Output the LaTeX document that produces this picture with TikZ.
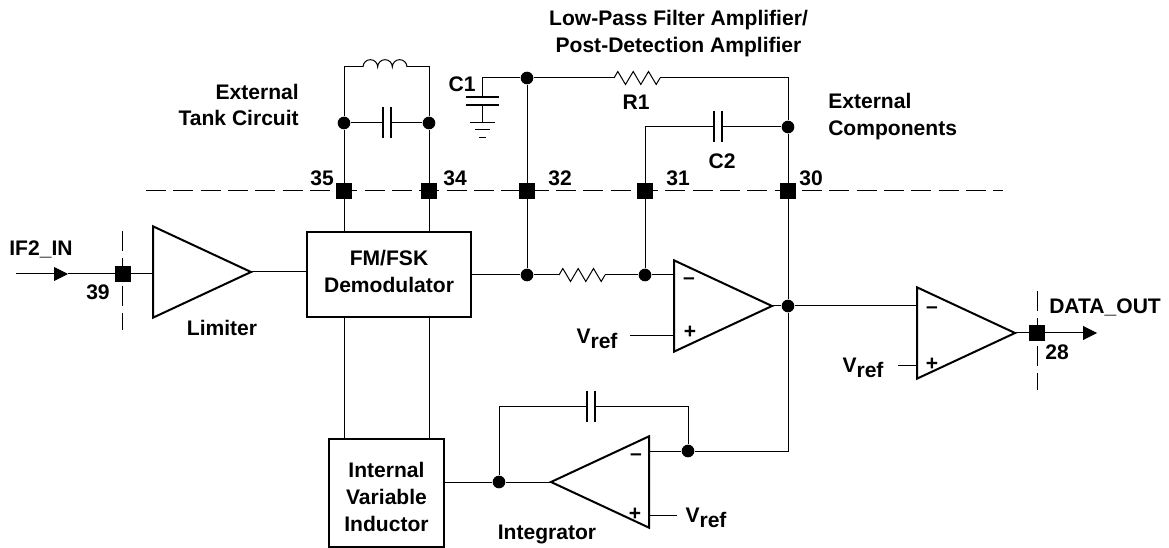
\documentclass[tikz,border=0pt]{standalone}
\usepackage{fontspec}
\usepackage{tikz}
\usetikzlibrary{arrows.meta,shapes.geometric}
\setmainfont{Liberation Sans}

\tikzset{
    pin/.style={rectangle, fill=black, inner sep=0pt, minimum size=12pt},
    dot/.style={circle, fill=black, inner sep=0pt, minimum size=9.5pt},
    block/.style={rectangle, draw, line width=1.5pt, align=center, inner sep=0pt, font=\bfseries\fontsize{15.8}{20}\selectfont},
    amp/.style={isosceles triangle, isosceles triangle stretches, draw, line width=1.5pt, inner sep=0pt, outer sep=0pt, minimum width=68.5pt, minimum height=73.5pt, anchor=lower side},
    lbl/.style={inner sep=0pt, align=center, font=\bfseries\fontsize{15.8}{20}\selectfont},
    wire/.style={line width=0.75pt},
    cut/.style={line width=0.75pt, dash pattern=on 15pt off 5.5pt},
    tip/.style={-{Triangle[length=10.5pt,width=10.5pt]}},
    hcap/.pic={\draw[line width=1.5pt] (-4,-15.5) -- (-4,15.5) (4,-15.5) -- (4,15.5);},
    res/.pic={\draw[wire] (0,0) -- (3.8,-6.5) -- (11.5,6.5) -- (19.2,-6.5) -- (26.8,6.5) -- (34.5,-6.5) -- (42.2,6.5) -- (46,0);},
    ind/.pic={\draw[wire] (0,0) arc[start angle=180, end angle=0, radius=5.5pt] arc[start angle=180, end angle=0, radius=5.5pt] arc[start angle=180, end angle=0, radius=5.5pt];}
}
\newcommand{\vref}{V\raisebox{-4pt}{ref}}

\begin{document}
\begin{tikzpicture}[x=0.75pt, y=-0.75pt]
    \useasboundingbox (0,0) rectangle (1169,548);

    % Pins on the dashed boundary
    \node[pin] (pin39) at (123,274) {};
    \node[pin] (pin35) at (344,191) {};
    \node[pin] (pin34) at (429,191) {};
    \node[pin] (pin32) at (527,191) {};
    \node[pin] (pin31) at (645,191) {};
    \node[pin] (pin30) at (788,191) {};
    \node[pin] (pin28) at (1037,333) {};

    % Dashed boundary
    \coordinate (cutL) at (146,191);
    \coordinate (cutR) at (1003,191);
    \coordinate (cut39a) at (122,231);
    \coordinate (cut39b) at (122,330);
    \coordinate (cut28a) at (1037,291);
    \coordinate (cut28b) at (1037,390);
    \draw[cut] (cutL) -- (cutR);
    \draw[cut] (cut39a) -- (cut39b);
    \draw[cut] (cut28a) -- (cut28b);

    % Blocks and amplifiers
    \node[block, minimum width=123pt, minimum height=64pt] (demod) at (389,274.5) {FM/FSK\\Demodulator\rule[-4.7pt]{0pt}{0pt}};
    \node[block, minimum width=86pt, minimum height=81pt] (vind) at (386.5,493) {\rule{0pt}{17.3pt}Internal\\Variable\\Inductor};
    \node[amp] (limiter) at (153,272) {};
    \node[amp] (amp1) at (674,306) {};
    \node[amp] (amp2) at (917,333) {};
    \node[amp, shape border rotate=180] (amp3) at (649,482) {};

    % Junction dots
    \node[dot] (dotTL) at (344,123) {};
    \node[dot] (dotTR) at (429,123) {};
    \node[dot] (dotC1) at (527,78) {};
    \node[dot] (dotIn) at (527,275) {};
    \node[dot] (dotNeg) at (645,275) {};
    \node[dot] (dotC2) at (788,127) {};
    \node[dot] (dotOut) at (788,306) {};
    \node[dot] (dotFb) at (688,451) {};
    \node[dot] (dotInt) at (499,482) {};

    % Free ends of parts
    \coordinate (inL) at (363,67);
    \coordinate (inE) at (407,67);
    \coordinate (capTL) at (383,123);
    \coordinate (capTR) at (390,123);
    \coordinate (r1L) at (614,78);
    \coordinate (r1R) at (660,78);
    \coordinate (r2L) at (559,275);
    \coordinate (r2R) at (605,275);
    \coordinate (c2L) at (714,127);
    \coordinate (c2R) at (721,127);
    \coordinate (c3L) at (587,406);
    \coordinate (c3R) at (595,406);
    \coordinate (top30) at (788,78);
    \coordinate (c1top) at (482,78);
    \coordinate (c1a) at (482,97);
    \coordinate (c1b) at (482,105);
    \coordinate (gnd) at (482,123);
    \coordinate (ifin) at (16,274);
    \coordinate (ifmid) at (68,274);
    \coordinate (dataend) at (1097,333);
    \coordinate (vr1) at (630,336);
    \coordinate (vr2) at (898,366);
    \coordinate (vr3) at (677,515);

    % Tank circuit
    \draw[wire] (demod.north -| pin35) -- (pin35) -- (dotTL) |- (inL);
    \draw[wire] (demod.north -| pin34) -- (pin34) -- (dotTR) |- (inE);
    \pic at (inL) {ind};
    \draw[wire] (dotTL) -- (capTL);
    \draw[wire] (capTR) -- (dotTR);
    \pic at (386.5,123) {hcap};

    % C1 and ground
    \draw[wire] (dotIn) -- (pin32) -- (dotC1);
    \draw[wire] (dotC1) -- (c1top) -- (c1a);
    \draw[wire] (c1b) -- (gnd);
    \draw[line width=1.5pt] (466,97) -- (499,97) (466,105) -- (499,105);
    \draw[wire] (470,123) -- (495,123) (475,130) -- (490,130) (479,138) -- (486,138);

    % R1 and C2 feedback
    \draw[wire] (dotC1) -- (r1L);
    \pic at (r1L) {res};
    \draw[wire] (r1R) -| (top30) -- (dotC2) -- (pin30) -- (dotOut);
    \draw[wire] (dotNeg) -- (pin31) |- (c2L);
    \draw[wire] (c2R) -- (dotC2);
    \pic at (717.5,127) {hcap};

    % Signal path
    \draw[wire, tip] (ifin) -- (ifmid);
    \draw[wire] (ifmid) -- (pin39) -- (pin39 -| limiter.lower side);
    \draw[wire] (limiter.apex) -- (limiter.apex -| demod.west);
    \draw[wire] (demod.east |- dotIn) -- (dotIn) -- (r2L);
    \pic at (r2L) {res};
    \draw[wire] (r2R) -- (dotNeg) -- (dotNeg -| amp1.lower side);
    \draw[wire] (vr1) -- (vr1 -| amp1.lower side);
    \draw[wire] (amp1.apex) -- (dotOut) -- (dotOut -| amp2.lower side);
    \draw[wire] (vr2) -- (vr2 -| amp2.lower side);
    \draw[wire] (amp2.apex) -- (pin28);
    \draw[wire, tip] (pin28) -- (dataend);

    % Integrator loop
    \draw[wire] (demod.south -| pin35) -- (vind.north -| pin35);
    \draw[wire] (demod.south -| pin34) -- (vind.north -| pin34);
    \draw[wire] (dotOut) |- (dotFb) -- (dotFb -| amp3.lower side);
    \draw[wire] (dotFb) |- (c3R);
    \pic at (591,406) {hcap};
    \draw[wire] (c3L) -| (dotInt);
    \draw[wire] (vind.east |- dotInt) -- (dotInt) -- (amp3.apex);
    \draw[wire] (vr3) -- (vr3 -| amp3.lower side);

    % Amplifier signs
    \node[lbl] (n1) at (689,281) {--};
    \node[lbl] (p1) at (690,332) {+};
    \node[lbl] (n2) at (932,310) {--};
    \node[lbl] (p2) at (932,364) {+};
    \node[lbl] (n3) at (636,457) {--};
    \node[lbl] (p3) at (635,514) {+};

    % Labels
    \node[lbl] (title) at (678.5,33.5) {Low-Pass Filter Amplifier/\\Post-Detection Amplifier};
    \node[lbl, align=right, anchor=east] (tank) at (299,105) {External\\Tank Circuit};
    \node[lbl, align=left, anchor=west] (ext) at (828,116.5) {External\\Components};
    \node[lbl] (c1) at (462,84) {C1};
    \node[lbl] (r1) at (636,102) {R1};
    \node[lbl] (c2) at (722,161) {C2};
    \node[lbl] (n35) at (322,178) {35};
    \node[lbl] (n34) at (455,178) {34};
    \node[lbl] (n32) at (560,178) {32};
    \node[lbl] (n31) at (678,178) {31};
    \node[lbl] (n30) at (811,178) {30};
    \node[lbl] (n39) at (98,292) {39};
    \node[lbl] (n28) at (1057,352) {28};
    \node[lbl] (ifname) at (41,249) {IF2\_IN};
    \node[lbl, anchor=west] (dataname) at (1049,307) {DATA\_OUT};
    \node[lbl] (limname) at (222,328) {Limiter};
    \node[lbl] (intname) at (547,534) {Integrator};
    \node[lbl] (vref1) at (597,339) {\vref};
    \node[lbl] (vref2) at (863,368) {\vref};
    \node[lbl] (vref3) at (706,518) {\vref};
\end{tikzpicture}
\end{document}
